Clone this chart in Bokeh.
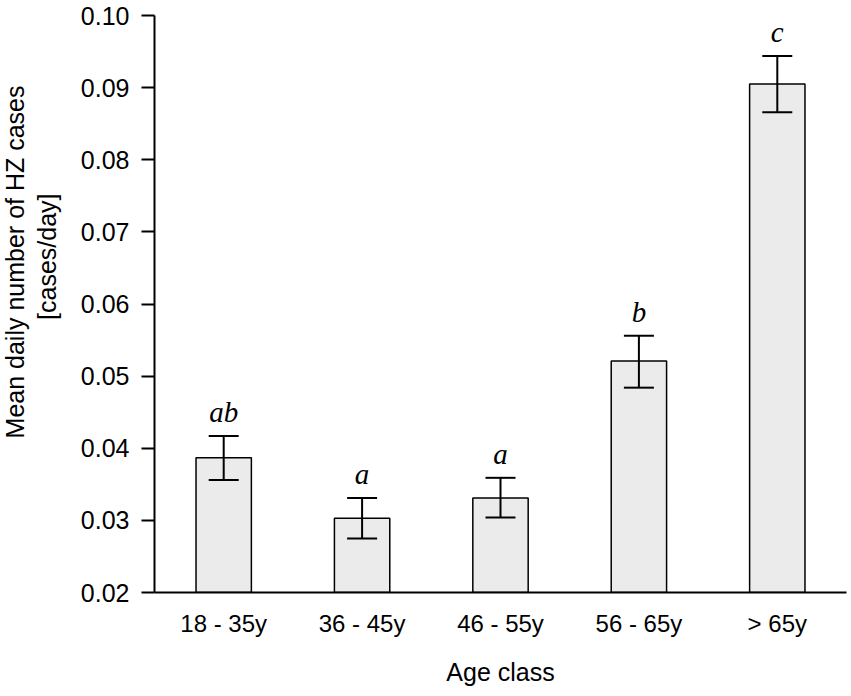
from bokeh.plotting import figure
from bokeh.models import (ColumnDataSource, FactorRange, Range1d, FixedTicker,
                          NumeralTickFormatter, Whisker, TeeHead, Title, LinearAxis)
from bokeh.core.properties import value
from bokeh.embed import file_html
from bokeh.resources import INLINE

# Data
age_classes = ["18 - 35y", "36 - 45y", "46 - 55y", "56 - 65y", "> 65y"]
mean_cases = [0.0387, 0.0303, 0.0331, 0.0521, 0.0905]
err_upper = [0.0417, 0.0331, 0.0359, 0.0556, 0.0944]
err_lower = [0.0356, 0.0275, 0.0304, 0.0484, 0.0866]
group_letters = ["ab", "a", "a", "b", "c"]
y_ticks = [0.02, 0.03, 0.04, 0.05, 0.06, 0.07, 0.08, 0.09, 0.10]

src = ColumnDataSource(dict(x=age_classes, top=mean_cases, upper=err_upper,
                            lower=err_lower, letter=group_letters))

p = figure(width=851, height=696, output_backend="svg", toolbar_location=None,
           x_range=FactorRange(*age_classes, range_padding=0),
           y_range=Range1d(0.02, 0.10),
           min_border_left=153, min_border_right=5, min_border_top=15,
           min_border_bottom=104)
p.outline_line_color = None
p.xgrid.grid_line_color = None
p.ygrid.grid_line_color = None
p.background_fill_color = "white"
p.border_fill_color = "white"

p.vbar(x="x", top="top", bottom=0.02, width=0.4, source=src,
       fill_color="#ebebeb", line_color="black", line_width=1.5)

w = Whisker(base="x", upper="upper", lower="lower", source=src,
            line_color="black", line_width=2, level="overlay",
            upper_head=TeeHead(size=30, line_color="black", line_width=2),
            lower_head=TeeHead(size=30, line_color="black", line_width=2))
p.add_layout(w)

p.text(x="x", y="upper", text="letter", source=src,
       text_font=value("Liberation Serif"), text_font_style="italic",
       text_font_size="29px", text_align="center", text_baseline="alphabetic",
       y_offset=-24, text_color="black")

# Y axis
ya = p.yaxis[0]
ya.ticker = FixedTicker(ticks=y_ticks)
ya.formatter = NumeralTickFormatter(format="0.00")
ya.axis_line_width = 2
ya.axis_line_color = "black"
ya.major_tick_line_width = 2
ya.major_tick_out = 13
ya.major_tick_in = 0
ya.minor_tick_line_color = None
ya.major_label_text_font = "Liberation Sans"
ya.major_label_text_font_size = "25px"
ya.major_label_text_color = "black"
ya.major_label_standoff = 12

# X axis
xa = p.xaxis[0]
xa.axis_line_width = 2
xa.axis_line_color = "black"
xa.major_tick_line_color = None
xa.major_tick_out = 0
xa.major_tick_in = 0
xa.minor_tick_line_color = None
xa.major_label_text_font = "Liberation Sans"
xa.major_label_text_font_size = "24px"
xa.major_label_text_color = "black"
xa.major_label_standoff = 17
xa.axis_label = "Age class"
xa.axis_label_text_font = "Liberation Sans"
xa.axis_label_text_font_size = "25px"
xa.axis_label_text_font_style = "normal"
xa.axis_label_text_color = "black"
xa.axis_label_standoff = 18

# invisible spacer between the tick labels and the Y label
spacer = LinearAxis(ticker=FixedTicker(ticks=[0.06]), axis_line_color=None,
                    major_tick_line_color=None, minor_tick_line_color=None,
                    major_tick_out=17, major_tick_in=0, major_label_standoff=0,
                    major_label_overrides={0.06: ""},
                    major_label_text_font_size="1px")
p.add_layout(spacer, "left")

# Two-line Y label as left-side titles (inner line first)
for txt, off, va in [("[cases/day]", 178, "bottom"),
                     ("Mean daily number of HZ cases", 70, "top")]:
    p.add_layout(Title(text=txt, align="right", offset=off, standoff=0,
                       vertical_align=va, text_font="Liberation Sans",
                       text_font_size="25px", text_font_style="normal",
                       text_color="black"), "left")

open("out.html", "w").write(file_html(p, INLINE))
